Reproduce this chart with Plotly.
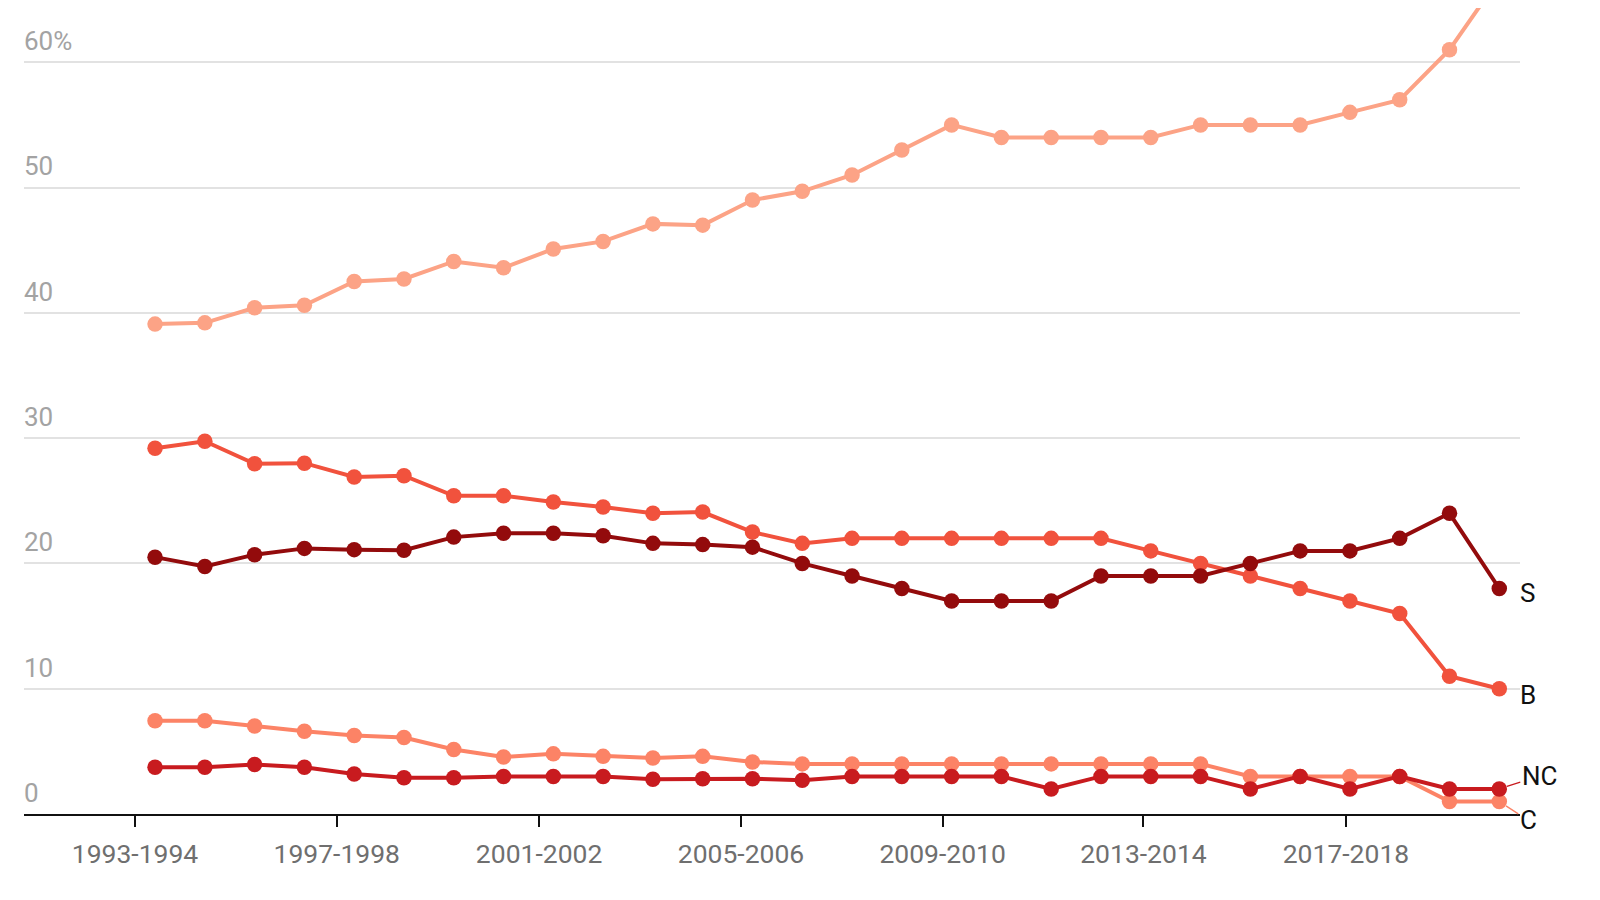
import plotly.graph_objects as go

school_years = [f"{y}-{y+1}" for y in range(1993, 2021)]
start_year = [int(s.split("-")[0]) for s in school_years]

series_top = [39.1, 39.2, 40.4, 40.6, 42.5, 42.7, 44.1, 43.6, 45.1, 45.7, 47.1, 47.0, 49.0, 49.7,
              51.0, 53.0, 55.0, 54.0, 54.0, 54.0, 54.0, 55.0, 55.0, 55.0, 56.0, 57.0, 61.0, 66.7]
series_C = [7.45, 7.45, 7.03, 6.6, 6.26, 6.1, 5.15, 4.55, 4.8, 4.6, 4.47, 4.6, 4.15, 4.0,
            4.0, 4.0, 4.0, 4.0, 4.0, 4.0, 4.0, 4.0, 3.0, 3.0, 3.0, 3.0, 1.0, 1.0]
series_B = [29.2, 29.75, 27.95, 28.0, 26.9, 27.0, 25.4, 25.4, 24.9, 24.5, 24.0, 24.1, 22.5, 21.6,
            22.0, 22.0, 22.0, 22.0, 22.0, 22.0, 21.0, 20.0, 19.0, 18.0, 17.0, 16.0, 11.0, 10.0]
series_NC = [3.73, 3.73, 3.95, 3.73, 3.2, 2.9, 2.9, 3.0, 3.0, 3.0, 2.78, 2.82, 2.82, 2.7,
             3.0, 3.0, 3.0, 3.0, 2.0, 3.0, 3.0, 3.0, 2.0, 3.0, 2.0, 3.0, 2.0, 2.0]
series_S = [20.5, 19.75, 20.7, 21.2, 21.1, 21.05, 22.1, 22.4, 22.4, 22.2, 21.6, 21.5, 21.3, 20.0,
            19.0, 18.0, 17.0, 17.0, 17.0, 19.0, 19.0, 19.0, 20.0, 21.0, 21.0, 22.0, 24.0, 18.0]

tick_labels = ["1993-1994", "1997-1998", "2001-2002", "2005-2006", "2009-2010", "2013-2014", "2017-2018"]
y_ticks = [0, 10, 20, 30, 40, 50, 60]
y_tick_text = ["0", "10", "20", "30", "40", "50", "60%"]

FONT = "Roboto"
colors = {"top": "#fca386", "C": "#fc8366", "B": "#f1523d", "NC": "#c81b1f", "S": "#930b0c"}

fig = go.Figure()
for name, vals in [("top", series_top), ("C", series_C), ("B", series_B), ("NC", series_NC), ("S", series_S)]:
    fig.add_trace(go.Scatter(
        x=start_year, y=vals, name=name, mode="lines+markers",
        line=dict(color=colors[name], width=4),
        marker=dict(color=colors[name], size=15.5, line=dict(width=0)),
        hoverinfo="skip", showlegend=False,
    ))

last_x = start_year[-1]
ann_font = dict(family=FONT, size=26, color="#111111")
annotations = [
    dict(x=last_x, y=series_S[-1], text="S", showarrow=False, xanchor="left", xshift=19, yshift=-5, font=ann_font),
    dict(x=last_x, y=series_B[-1], text="B", showarrow=False, xanchor="left", xshift=19, yshift=-6, font=ann_font),
    dict(x=last_x, y=series_NC[-1], text="NC", showarrow=True, ax=40, ay=-13, arrowhead=0,
         arrowwidth=1.3, arrowcolor=colors["NC"], standoff=8, font=ann_font),
    dict(x=last_x, y=series_C[-1], text="C", showarrow=True, ax=29, ay=19, arrowhead=0,
         arrowwidth=1.3, arrowcolor=colors["C"], standoff=8, font=ann_font),
]

tick_positions = [1992.598, 1996.65, 2000.714, 2004.77, 2008.82, 2012.853, 2016.92]

fig.update_layout(
    width=1600, height=900,
    margin=dict(l=16, r=88, t=0, b=94),
    paper_bgcolor="white", plot_bgcolor="white",
    font=dict(family=FONT),
    annotations=annotations,
    xaxis=dict(
        range=[1990.368, 2020.416],
        tickmode="array", tickvals=tick_positions, ticktext=tick_labels,
        showgrid=False, zeroline=False,
        showline=True, linecolor="#111111", linewidth=2,
        ticks="outside", ticklen=11, tickwidth=2, tickcolor="#111111",
        tickfont=dict(family=FONT, size=26.5, color="#6f6f6f"),
        ticklabelstandoff=4,
    ),
    yaxis=dict(
        range=[0, 64.33],
        tickmode="array", tickvals=y_ticks, ticktext=y_tick_text,
        showgrid=True, gridcolor="#e2e2e2", gridwidth=1.5,
        zeroline=False, showline=False, ticks="",
        ticklabelposition="inside top",
        ticklabelshift=-3, ticklabelstandoff=-3,
        tickfont=dict(family=FONT, size=26, color="#a3a3a3"),
    ),
)

fig.write_html("out.html")
